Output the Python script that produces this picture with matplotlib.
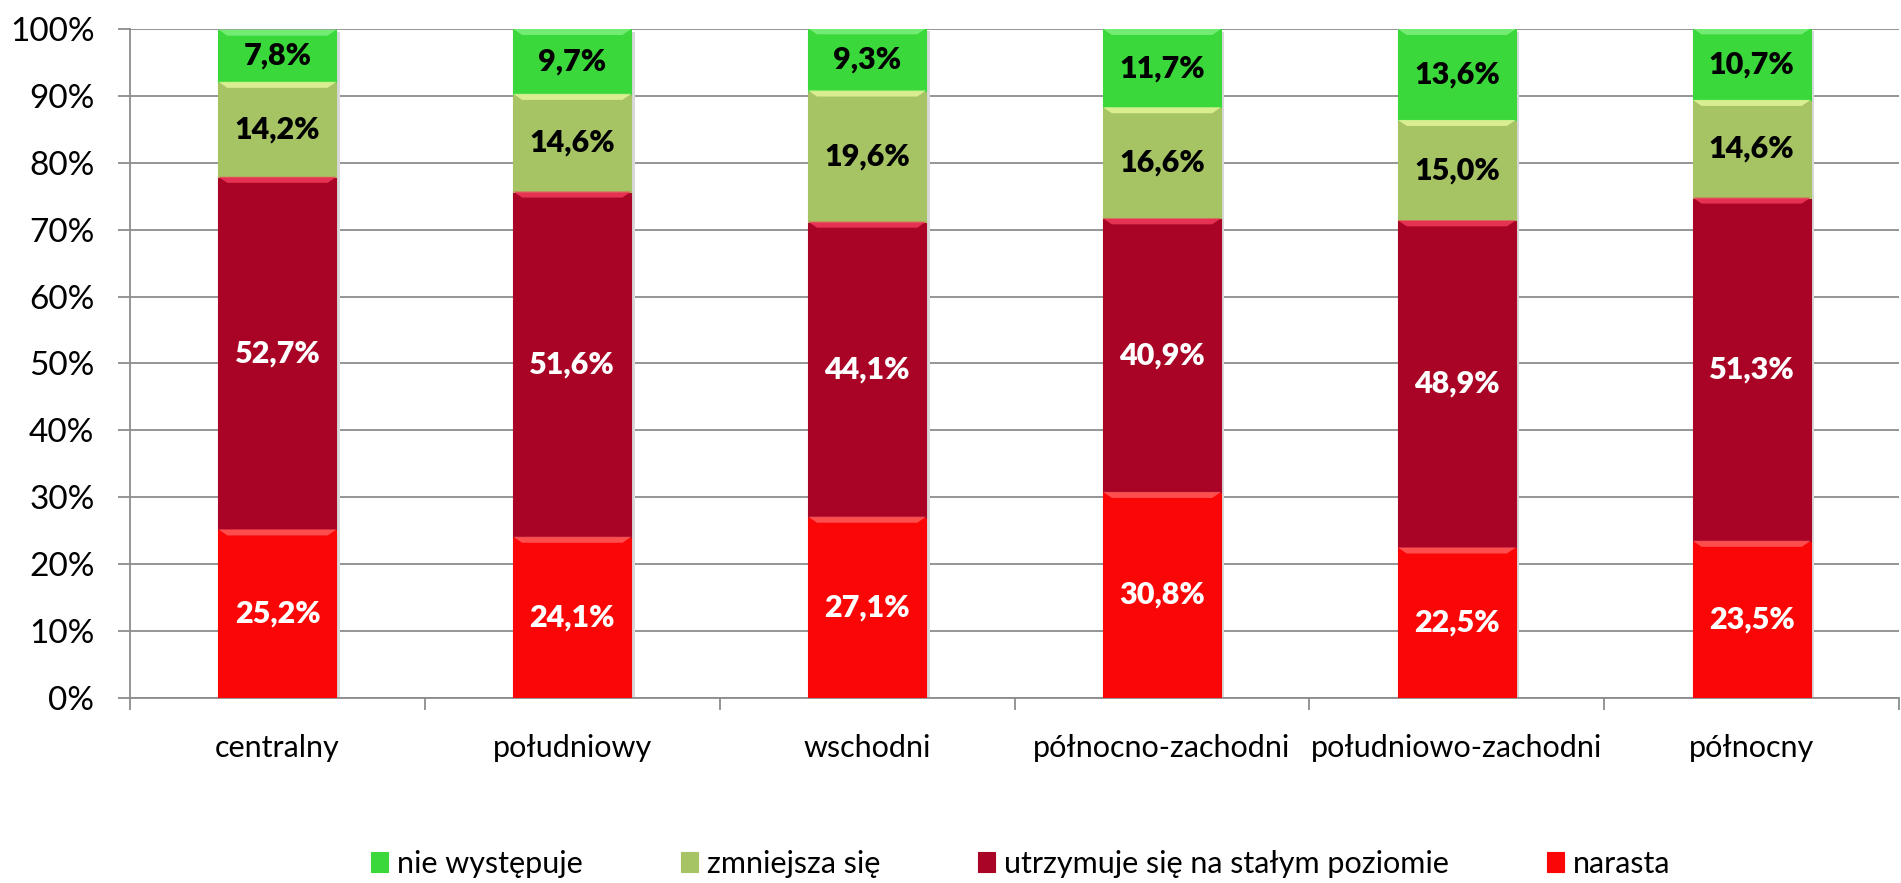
import matplotlib
matplotlib.use("Agg")
import matplotlib.pyplot as plt
from matplotlib.patches import Polygon
from matplotlib.ticker import FixedLocator, FuncFormatter
import numpy as np

plt.rcParams['font.family'] = ['Lato', 'DejaVu Sans']

regions = ["centralny", "południowy", "wschodni", "północno-zachodni",
           "południowo-zachodni", "północny"]
narasta = [25.2, 24.1, 27.1, 30.8, 22.5, 23.5]
utrzymuje = [52.7, 51.6, 44.1, 40.9, 48.9, 51.3]
zmniejsza = [14.2, 14.6, 19.6, 16.6, 15.0, 14.6]
nie_wystepuje = [7.8, 9.7, 9.3, 11.7, 13.6, 10.7]

series = [
    ("narasta", narasta, "#fb0606", "#ff5a5a", "#ffffff"),
    ("utrzymuje się na stałym poziomie", utrzymuje, "#a90426", "#f03a5a", "#ffffff"),
    ("zmniejsza się", zmniejsza, "#a6c463", "#e4f59a", "#000000"),
    ("nie występuje", nie_wystepuje, "#3bd83b", "#7ef07e", "#000000"),
]

fig = plt.figure(figsize=(19.01, 8.83), dpi=100)
ax = fig.add_axes([0.0684, 0.2095, 0.9306, 0.7577])

x = np.arange(len(regions))
width = 0.4
bottom = np.zeros(len(regions))
handles = []
for name, vals, col, light, tcol in series:
    vals = np.array(vals)
    # soft drop shadow to the right of each segment
    ax.bar(x + 0.012, vals, width, bottom=bottom - 0.4, color="#d8d8d8",
           zorder=2, linewidth=0)
    bars = ax.bar(x, vals, width, bottom=bottom, color=col, zorder=3,
                  edgecolor=col, linewidth=0.8, label=name)
    handles.append(bars)
    for xi, b, v in zip(x, bottom, vals):
        top = b + v
        # bevelled highlight along the top of the segment
        h = 0.9
        inset = 0.03
        poly = Polygon([(xi - width / 2, top), (xi + width / 2, top),
                        (xi + width / 2 - inset, top - h),
                        (xi - width / 2 + inset, top - h)],
                       closed=True, facecolor=light, edgecolor="none",
                       zorder=4, alpha=0.85)
        ax.add_patch(poly)
        ax.text(xi, b + v / 2, f"{v:.1f}%".replace(".", ","), ha="center",
                va="center", fontsize=22, fontweight="heavy", color=tcol,
                zorder=5)
    bottom = bottom + vals

ax.set_xlim(-0.5, len(regions) - 0.5)
ax.set_ylim(0, 100)
ax.yaxis.set_major_locator(FixedLocator(np.arange(0, 101, 10)))
ax.yaxis.set_major_formatter(FuncFormatter(lambda v, p: f"{int(v)}%"))
ax.grid(axis="y", color="#8c8c8c", linewidth=1.3, zorder=0)
ax.set_axisbelow(True)

ax.set_xticks(x)
ax.set_xticklabels(regions, fontsize=22)
ax.set_xticks(np.arange(-0.5, len(regions)), minor=True)
ax.tick_params(axis="x", which="major", length=0, pad=26)
ax.tick_params(axis="x", which="minor", length=8.6, width=1.3, color="#8c8c8c")
ax.tick_params(axis="y", labelsize=24, length=8.6, width=1.3, color="#8c8c8c",
               pad=17)

for s in ["top", "right"]:
    ax.spines[s].set_visible(False)
for s in ["left", "bottom"]:
    ax.spines[s].set_color("#8c8c8c")
    ax.spines[s].set_linewidth(1.3)

leg_handles = handles[::-1]
leg_labels = [s[0] for s in series][::-1]
fig.legend(leg_handles, leg_labels, loc="lower center",
           bbox_to_anchor=(0.537, -0.025), ncol=4, frameon=False, fontsize=22,
           handlelength=0.55, handleheight=0.6, handletextpad=0.3,
           columnspacing=3.2)

fig.savefig("out.png", dpi=100, facecolor="white")
